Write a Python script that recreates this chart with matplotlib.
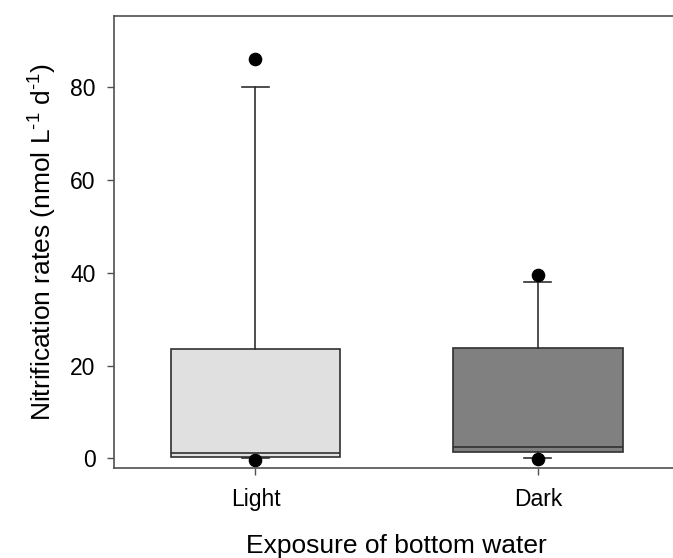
import matplotlib
matplotlib.use('Agg')
import matplotlib.pyplot as plt

plt.rcParams['font.family'] = ['Liberation Sans', 'DejaVu Sans']
plt.rcParams['mathtext.fontset'] = 'custom'
plt.rcParams['mathtext.rm'] = 'Liberation Sans'

# box statistics
groups = ['Light', 'Dark']
q1 = [0.3, 1.35]
medians = [1.1, 2.4]
q3 = [23.5, 23.7]
whisker_low = [0.0, 0.0]
whisker_high = [80.1, 38.1]
outliers = [[86.0, -0.4], [39.6, -0.15]]
box_colors = ['#e0e0e0', '#808080']

stats = []
for i, g in enumerate(groups):
    stats.append({'label': g, 'q1': q1[i], 'med': medians[i], 'q3': q3[i],
                  'whislo': whisker_low[i], 'whishi': whisker_high[i],
                  'fliers': outliers[i]})

fig = plt.figure(figsize=(6.73, 5.58), dpi=100)
# right spine falls just outside the picture, as in the original crop
ax = fig.add_axes([114.3 / 673, 1 - 468.2 / 558,
                   (679 - 114.3) / 673, (468.2 - 15.7) / 558])

edge = '#303030'
bp = ax.bxp(stats, positions=[1, 2], widths=0.6, capwidths=0.095,
            patch_artist=True,
            boxprops=dict(edgecolor=edge, linewidth=1.2),
            medianprops=dict(color=edge, linewidth=1.2),
            whiskerprops=dict(color=edge, linewidth=1.2),
            capprops=dict(color=edge, linewidth=1.2),
            flierprops=dict(marker='o', markerfacecolor='black',
                            markeredgecolor='black', markersize=8.8))
for patch, c in zip(bp['boxes'], box_colors):
    patch.set_facecolor(c)

ax.set_xlim(0.5, 2.5)
ax.set_ylim(-2.13, 95.4)
ax.set_yticks([0, 20, 40, 60, 80])
ax.set_xticks([1, 2])
ax.set_xticklabels(groups)

for s in ax.spines.values():
    s.set_color('#505050')
    s.set_linewidth(1.2)

ax.tick_params(direction='out', length=5, width=1, color='#505050',
               labelsize=16.5)
ax.tick_params(axis='x', pad=9)
ax.tick_params(axis='y', pad=8.5)

ax.set_ylabel(r'Nitrification rates (nmol L$^{\text{-1}}$ d$^{\text{-1}}$)',
              fontsize=19, labelpad=9)
ax.set_xlabel('Exposure of bottom water', fontsize=19, labelpad=17)

fig.savefig('out.png', dpi=100)
